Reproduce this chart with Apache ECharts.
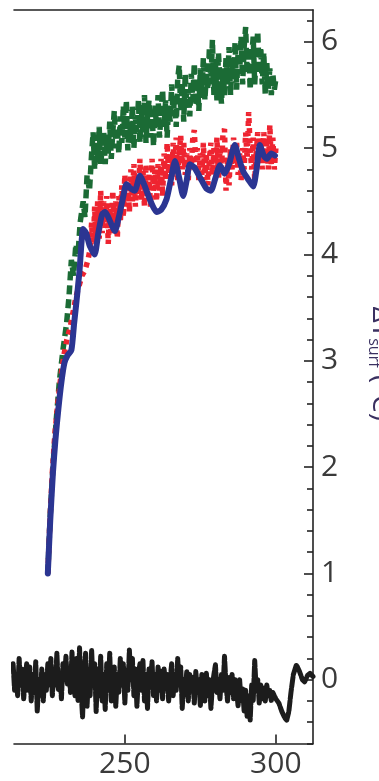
<!DOCTYPE html>
<html><head><meta charset="utf-8">
<script src="https://cdn.jsdelivr.net/npm/echarts@6/dist/echarts.min.js"></script>
<style>html,body{margin:0;padding:0;background:#fff}#c{width:379px;height:781px}</style>
</head><body><div id="c"></div>
<script>
const xTicks = [250, 300];
const yTicks = [0, 1, 2, 3, 4, 5, 6];
const yMinorTicks = [-0.6,-0.4,-0.2,0.2,0.4,0.6,0.8,1.2,1.4,1.6,1.8,2.2,2.4,2.6,2.8,3.2,3.4,3.6,3.8,4.2,4.4,4.6,4.8,5.2,5.4,5.6,5.8,6.2];

const blue = [[224.5,1.0],[225.3,1.5],[226.2,1.95],[227,2.25],[228,2.55],[229,2.8],[230,2.98],[231,3.05],[232.3,3.1],[233.2,3.35],[234,3.56],[235,3.85],[236.2,4.24],[237.2,4.2],[238.4,4.08],[240,4.0],[241.2,4.2],[242.5,4.38],[243.5,4.4],[245,4.32],[246.7,4.22],[248,4.35],[249.5,4.55],[250.5,4.66],[252,4.62],[253.3,4.6],[255,4.74],[256.5,4.65],[257.7,4.56],[259,4.47],[260.5,4.4],[262,4.42],[263.8,4.52],[265.2,4.7],[266.6,4.88],[268,4.72],[269.3,4.55],[270.5,4.7],[271.5,4.85],[273,4.82],[275,4.72],[277,4.62],[278.5,4.6],[280,4.72],[281.5,4.84],[283,4.76],[284.5,4.85],[286.4,5.03],[287.8,4.9],[289.2,4.78],[291,4.7],[292.5,4.64],[293.7,4.82],[294.7,5.03],[296,4.93],[297,4.9],[298.5,4.95],[299.7,4.93]];

const green = [[224.5,1.0],[225.3,1.55],[226.3,2.05],[227.3,2.45],[228.3,2.8],[229.5,3.1],[230.7,3.35],[231.5,3.6],[232.3,3.95],[233,3.8],[233.8,4.1],[234.5,4.0],[235.2,4.3],[236.2,4.5],[236.8,4.35],[237.5,4.75],[238.3,4.6],[239,4.95],[239.5,5.15],[240,4.8],[240.5,5.05],[241,4.9],[241.5,5.2],[242,4.85],[242.5,5.0],[243,5.15],[243.5,4.85],[244,5.1],[244.5,4.95],[245,5.25],[245.5,4.9],[246,5.15],[246.5,5.35],[247,5.0],[247.5,5.2],[248,4.95],[248.5,5.3],[249,5.05],[249.5,5.4],[250,5.1],[250.5,5.45],[251,4.98],[251.5,5.25],[252,5.1],[252.5,5.4],[253,5.0],[253.5,5.3],[254,5.15],[254.5,5.45],[255,5.05],[255.5,5.35],[256,5.15],[256.5,5.5],[257,5.05],[257.5,5.3],[258,5.45],[258.5,5.1],[259,5.35],[259.5,5.02],[260,5.4],[260.5,5.2],[261,5.5],[261.5,5.1],[262,5.35],[262.5,5.55],[263,5.2],[263.5,5.45],[264,5.1],[264.5,5.4],[265,5.25],[265.5,5.6],[266,5.3],[266.5,5.5],[267,5.2],[267.5,5.65],[268,5.78],[268.5,5.35],[269,5.6],[269.5,5.25],[270,5.7],[270.5,5.4],[271,5.55],[271.5,5.3],[272,5.7],[272.5,5.45],[273,5.8],[273.5,5.4],[274,5.65],[274.5,5.35],[275,5.75],[275.5,5.5],[276,5.85],[276.5,5.45],[277,5.7],[277.5,5.55],[278,5.95],[278.5,5.6],[279,6.02],[279.5,5.5],[280,5.8],[280.5,5.45],[281,5.9],[281.5,5.6],[282,5.42],[282.5,5.75],[283,5.5],[283.5,5.85],[284,5.6],[284.5,5.95],[285,5.5],[285.5,5.8],[286,5.65],[286.5,6.0],[287,5.55],[287.5,5.9],[288,5.7],[288.5,6.05],[289,5.6],[289.5,5.95],[290,6.14],[290.5,5.7],[291,5.95],[291.5,5.55],[292,5.85],[292.5,6.05],[293,5.6],[293.5,5.9],[294,6.1],[294.5,5.7],[295,5.95],[295.5,5.6],[296,5.9],[296.5,5.5],[297,5.8],[297.5,5.55],[298,5.75],[298.5,5.5],[299,5.7],[299.5,5.55],[300,5.65]];

const red = [[224.5,1.0],[225.2,1.5],[226,1.95],[226.8,2.3],[227.8,2.6],[228.8,2.85],[229.8,3.05],[230.8,3.2],[231.8,3.3],[232.8,3.45],[233.8,3.6],[234.8,3.7],[235.8,3.8],[236.8,3.85],[237.8,3.95],[238.5,4.05],[239,4.3],[239.5,4.0],[240,4.45],[240.5,4.1],[241,4.5],[241.5,4.15],[242,4.6],[242.5,4.2],[243,4.5],[243.5,4.25],[244,4.55],[244.5,4.1],[245,4.45],[245.5,4.2],[246,4.6],[246.5,4.25],[247,4.5],[247.5,4.15],[248,4.55],[248.5,4.3],[249,4.65],[249.5,4.35],[250,4.75],[250.5,4.45],[251,4.7],[251.5,4.4],[252,4.8],[252.5,4.5],[253,4.85],[253.5,4.45],[254,4.75],[254.5,4.55],[255,4.9],[255.5,4.5],[256,4.8],[256.5,4.45],[257,4.85],[257.5,4.55],[258,4.75],[258.5,4.45],[259,4.9],[259.5,4.6],[260,4.8],[260.5,4.5],[261,4.85],[261.5,4.6],[262,4.9],[262.5,4.55],[263,4.95],[263.5,4.7],[264,5.05],[264.5,4.75],[265,4.95],[265.5,4.65],[266,5.05],[266.5,4.8],[267,5.1],[267.5,4.7],[268,4.95],[268.5,5.12],[269,4.8],[269.5,5.05],[270,4.75],[270.5,4.95],[271,4.7],[271.5,5.0],[272,4.8],[272.5,5.1],[273,5.17],[273.5,4.85],[274,5.0],[274.5,4.7],[275,4.95],[275.5,4.75],[276,5.05],[276.5,4.7],[277,4.95],[277.5,4.65],[278,4.9],[278.5,5.05],[279,4.75],[279.5,5.0],[280,4.8],[280.5,5.1],[281,4.7],[281.5,5.0],[282,4.8],[282.5,5.15],[283,5.18],[283.5,4.6],[284,4.9],[284.5,4.65],[285,5.0],[285.5,4.8],[286,5.1],[286.5,4.85],[287,5.05],[287.5,4.75],[288,4.95],[288.5,4.7],[289,5.0],[289.5,4.8],[290,5.15],[290.5,4.9],[291,5.34],[291.5,5.0],[292,4.8],[292.5,5.1],[293,4.7],[293.5,4.95],[294,5.15],[294.5,4.85],[295,5.05],[295.5,4.8],[296,5.15],[296.5,4.9],[297,5.1],[297.5,4.8],[298,5.22],[298.5,4.85],[299,5.1],[299.5,4.8],[300,5.0]];

const black = [[213,0.15],[213.5,-0.1],[214,0.05],[214.5,-0.15],[215,0.2],[215.5,-0.05],[216,0.1],[216.5,-0.18],[217,0.0],[217.5,0.15],[218,-0.1],[218.5,0.12],[219,-0.2],[219.5,0.05],[220,-0.12],[220.5,0.17],[221,-0.3],[221.5,0.0],[222,-0.15],[222.5,0.1],[223,-0.2],[223.5,0.05],[224,-0.1],[224.5,0.15],[225,-0.05],[225.5,0.2],[226,-0.15],[226.5,0.1],[227,-0.05],[227.5,0.25],[228,-0.1],[228.5,0.05],[229,-0.18],[229.5,0.15],[230,0.0],[230.5,0.22],[231,-0.05],[231.5,0.1],[232,-0.12],[232.5,0.26],[233,0.0],[233.5,-0.15],[234,0.2],[234.5,-0.2],[235,0.3],[235.5,-0.1],[236,-0.35],[236.5,0.05],[237,0.25],[237.5,-0.25],[238,0.1],[238.5,-0.15],[239,0.28],[239.5,-0.05],[240,0.15],[240.5,-0.3],[241,0.1],[241.5,-0.15],[242,0.22],[242.5,-0.2],[243,0.05],[243.5,-0.28],[244,0.15],[244.5,-0.1],[245,0.25],[245.5,-0.2],[246,0.0],[246.5,0.12],[247,-0.25],[247.5,0.05],[248,-0.12],[248.5,0.2],[249,-0.05],[249.5,0.15],[250,-0.22],[250.5,0.1],[251,-0.1],[251.5,0.28],[252,0.0],[252.5,0.2],[253,-0.15],[253.5,0.1],[254,-0.25],[254.5,0.05],[255,0.15],[255.5,-0.1],[256,0.18],[256.5,-0.2],[257,0.05],[257.5,-0.27],[258,0.1],[258.5,-0.05],[259,0.17],[259.5,-0.15],[260,0.05],[260.5,-0.2],[261,0.12],[261.5,-0.1],[262,0.08],[262.5,-0.18],[263,0.1],[263.5,-0.05],[264,0.05],[264.5,-0.2],[265,0.0],[265.5,0.15],[266,-0.15],[266.5,0.05],[267,-0.1],[267.5,0.2],[268,-0.05],[268.5,0.12],[269,-0.27],[269.5,0.0],[270,-0.15],[270.5,0.08],[271,-0.2],[271.5,0.05],[272,-0.1],[272.5,0.02],[273,-0.22],[273.5,0.08],[274,-0.12],[274.5,0.0],[275,-0.25],[275.5,0.05],[276,-0.08],[276.5,-0.2],[277,0.06],[277.5,-0.15],[278,0.0],[278.5,-0.27],[279,-0.05],[279.5,0.05],[280,0.14],[280.5,-0.12],[281,0.0],[281.5,-0.18],[282,0.05],[282.5,-0.1],[283,0.22],[283.5,-0.05],[284,-0.2],[284.5,0.02],[285,-0.12],[285.5,0.05],[286,-0.18],[286.5,0.0],[287,-0.1],[287.5,-0.25],[288,0.0],[288.5,-0.2],[289,-0.08],[289.5,-0.3],[290,-0.1],[290.5,-0.35],[291,-0.15],[291.5,-0.38],[292,-0.05],[292.5,-0.2],[293,0.18],[293.5,-0.1],[294,0.0],[294.5,-0.22],[295,-0.05],[295.5,-0.18],[296,-0.08],[296.5,-0.2],[297,-0.05],[297.5,-0.15],[298,-0.1],[298.5,-0.2],[299,-0.12],[300,-0.18],[301,-0.22],[302,-0.3],[303,-0.36],[303.6,-0.38],[304.3,-0.3],[305,-0.12],[305.8,0.05],[306.8,0.14],[307.8,0.08],[308.8,0.0],[309.5,-0.02],[310.5,0.04],[311.3,0.06],[312.3,0.03]];

const AX = '#222';
const LBL = '#3a3a3a';
const FONT = 'Open Sans';

const chart = echarts.init(document.getElementById('c'), null, {renderer: 'canvas'});
chart.setOption({
  animation: false,
  backgroundColor: '#fff',
  grid: {left: 14, right: 66, top: 10, bottom: 37.5, containLabel: false, outerBoundsMode: 'none'},
  xAxis: [
    {type: 'value', position: 'bottom', min: 213.3, max: 312.3,
     axisLine: {show: true, onZero: false, lineStyle: {color: AX, width: 1.6}},
     axisTick: {show: true, inside: true, length: 9, customValues: xTicks, lineStyle: {color: AX, width: 1.6}},
     axisLabel: {show: true, customValues: xTicks, fontSize: 30, color: LBL, fontFamily: FONT, margin: 6},
     splitLine: {show: false}},
    {type: 'value', position: 'top', min: 213.3, max: 312.3,
     axisLine: {show: true, onZero: false, lineStyle: {color: AX, width: 1.6}},
     axisTick: {show: false}, axisLabel: {show: false}, splitLine: {show: false}}
  ],
  yAxis: [
    {type: 'value', position: 'right', min: -0.6, max: 6.3,
     axisLine: {show: true, onZero: false, lineStyle: {color: AX, width: 1.6}},
     axisTick: {show: true, inside: true, length: 9, customValues: yTicks, lineStyle: {color: AX, width: 1.6}},
     axisLabel: {show: true, customValues: yTicks, fontSize: 30, color: LBL, fontFamily: FONT, margin: 8},
     splitLine: {show: false},
     name: '{a|ΔT}{s|surf}{a| (°C)}',
     nameLocation: 'middle', nameRotate: -90, nameGap: 53,
     nameTextStyle: {padding: [0, 26, 0, 0], rich: {
       a: {fontSize: 28, color: '#3a3060', fontFamily: FONT},
       s: {fontSize: 16, color: '#3a3060', fontFamily: FONT, padding: [14, 0, 0, 0]}
     }}},
    {type: 'value', position: 'right', min: -0.6, max: 6.3,
     axisLine: {show: false, onZero: false},
     axisTick: {show: true, inside: true, length: 6, customValues: yMinorTicks, lineStyle: {color: AX, width: 1.6}},
     axisLabel: {show: false}, splitLine: {show: false}}
  ],
  series: [
    {type: 'line', data: black, symbol: 'none', xAxisIndex: 0, yAxisIndex: 0, z: 1,
     lineStyle: {color: '#1c1c1c', width: 5, type: [10, 2], cap: 'round', join: 'round'}},
    {type: 'line', data: green, symbol: 'none', xAxisIndex: 0, yAxisIndex: 0, z: 2,
     lineStyle: {color: '#1b6b35', width: 5.5, type: [9, 5]}},
    {type: 'line', data: red, symbol: 'none', xAxisIndex: 0, yAxisIndex: 0, z: 3,
     lineStyle: {color: '#ee2430', width: 5.5, type: [5, 5]}},
    {type: 'line', data: blue, symbol: 'none', xAxisIndex: 0, yAxisIndex: 0, z: 4, smooth: 0.2,
     lineStyle: {color: '#2b3592', width: 6, cap: 'round', join: 'round'}}
  ]
});
</script>
</body></html>
